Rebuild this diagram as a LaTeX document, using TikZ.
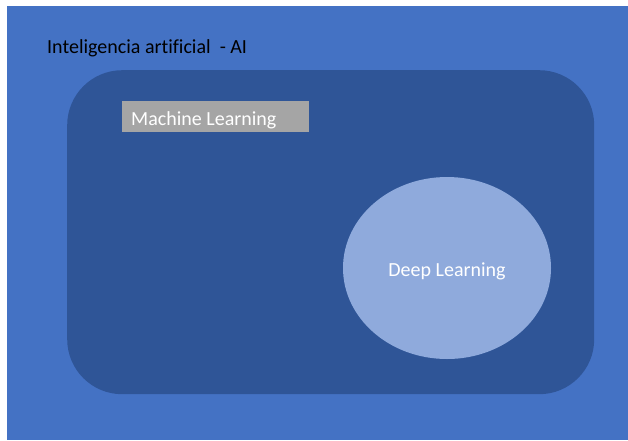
\documentclass[tikz,border=0pt]{standalone}
\usepackage{fontspec}
\setmainfont{Carlito}[Ligatures=NoCommon]
\usetikzlibrary{shapes.geometric}
\definecolor{aiblue}{HTML}{4472C4}
\definecolor{mlblue}{HTML}{2F5597}
\definecolor{dlblue}{HTML}{8FAADC}
\definecolor{mlgray}{HTML}{A5A5A5}
\begin{document}
\begin{tikzpicture}[x=1pt,y=-1pt,
  lbl/.style={inner sep=0pt, anchor=base west, font=\fontsize{20}{24}\selectfont}]
\useasboundingbox (0,0) rectangle (628,440);
\fill[white] (0,0) rectangle (628,440);
\node[fill=aiblue, inner sep=0pt, minimum width=621pt, minimum height=434pt, anchor=north west] (ai) at (7,6) {};
\node[fill=mlblue, rounded corners=55pt, inner sep=0pt, minimum width=527pt, minimum height=324pt, anchor=north west] (ml) at (67,70) {};
\node[fill=mlgray, inner sep=0pt, minimum width=187pt, minimum height=31pt, anchor=north west] (mlbox) at (122,101) {};
\node[fill=dlblue, ellipse, inner sep=0pt, minimum width=208pt, minimum height=182pt] (dl) at (447,268) {};
\node[lbl, text=black] (ailbl) at (47,53) {Inteligencia artificial\ \ - AI};
\node[lbl, text=white] (mllbl) at (131,125) {Machine Learning};
\node[lbl, text=white, anchor=base] (dllbl) at (447,276) {Deep Learning};
\end{tikzpicture}
\end{document}
